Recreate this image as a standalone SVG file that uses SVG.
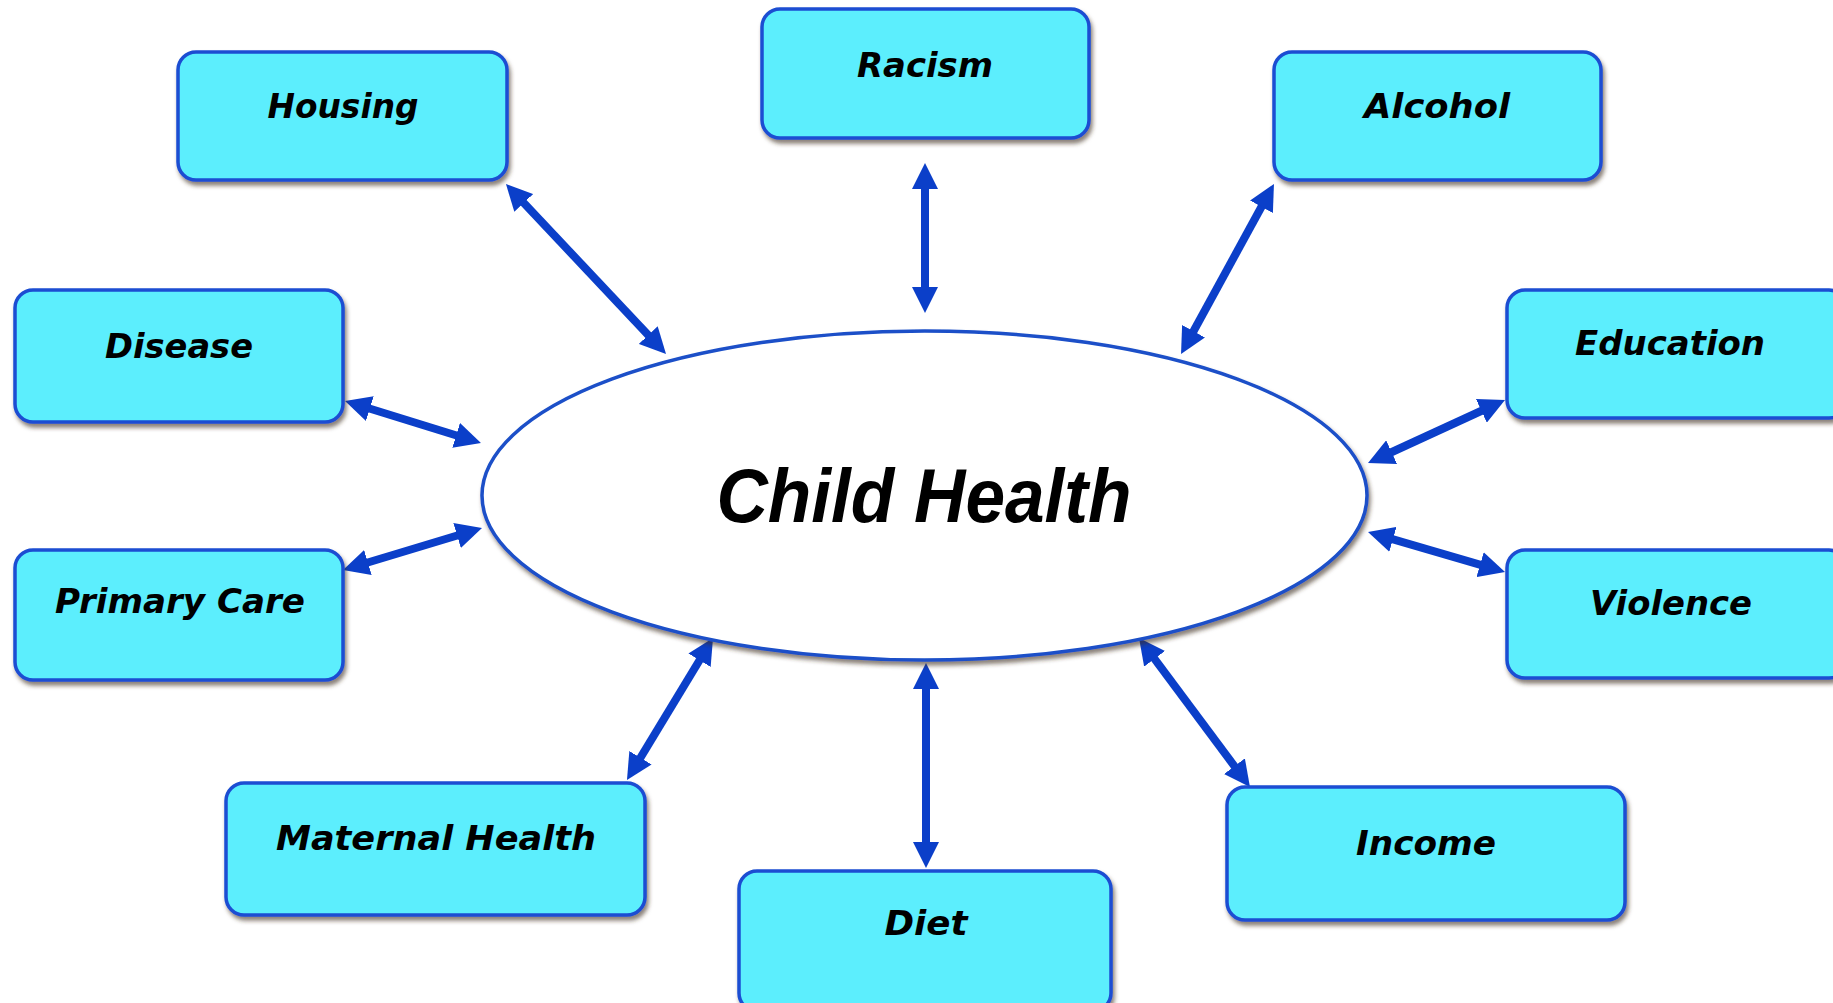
<svg xmlns="http://www.w3.org/2000/svg" width="1833" height="1003" viewBox="0 0 1833 1003">
<defs>
<filter id="sh" x="-10%" y="-10%" width="130%" height="140%">
<feDropShadow dx="2" dy="4" stdDeviation="2" flood-color="#3a2a20" flood-opacity="0.6"/>
</filter>
<marker id="ah" markerUnits="userSpaceOnUse" markerWidth="26" markerHeight="26" refX="14" refY="13" orient="auto-start-reverse">
<path d="M0,0 L26,13 L0,26 Z" fill="#0b3fc9"/>
</marker>
<style>
.box{fill:#5beefd;stroke:#1a4ed2;stroke-width:3.5;filter:url(#sh)}
.lbl{font-family:"DejaVu Sans",sans-serif;font-weight:bold;font-style:italic;font-size:34px;fill:#000;text-anchor:middle}
.arr{stroke:#0b3fc9;stroke-width:8;fill:none;marker-start:url(#ah);marker-end:url(#ah)}
</style>
</defs>
<rect width="1833" height="1003" fill="#fff"/>
<g id="connectors">
<path class="arr" d="M514.2,192.7 L657.8,345.3"/>
<path class="arr" d="M925,175 L925,301"/>
<path class="arr" d="M1268.2,194.5 L1186.8,343.5"/>
<path class="arr" d="M356.5,404.5 L469.5,439.5"/>
<path class="arr" d="M354.5,566.5 L470.5,531.5"/>
<path class="arr" d="M1494.1,405 L1378.9,458"/>
<path class="arr" d="M1493.5,568.6 L1379.5,535.4"/>
<path class="arr" d="M633.2,769.7 L706.8,648.3"/>
<path class="arr" d="M926,856 L926,675"/>
<path class="arr" d="M1242.8,777.4 L1146.2,647.6"/>
</g>
<g id="child-health">
<ellipse cx="924.5" cy="495.5" rx="442.5" ry="164.5" fill="#fff" stroke="#1a4fc8" stroke-width="3.5" filter="url(#sh)"/>
<text x="924" y="522" font-family="'Liberation Sans',sans-serif" font-weight="bold" font-style="italic" font-size="76" text-anchor="middle" textLength="415" lengthAdjust="spacingAndGlyphs">Child Health</text>
</g>
<g id="housing"><rect class="box" x="178" y="52" width="329" height="128" rx="18"/><text class="lbl" x="343" y="118" textLength="151" lengthAdjust="spacingAndGlyphs">Housing</text></g>
<g id="racism"><rect class="box" x="762" y="9" width="327" height="129" rx="18"/><text class="lbl" x="925" y="77" textLength="136" lengthAdjust="spacingAndGlyphs">Racism</text></g>
<g id="alcohol"><rect class="box" x="1274" y="52" width="327" height="128" rx="18"/><text class="lbl" x="1437" y="118" textLength="146" lengthAdjust="spacingAndGlyphs">Alcohol</text></g>
<g id="disease"><rect class="box" x="15" y="290" width="328" height="132" rx="18"/><text class="lbl" x="179" y="358" textLength="148" lengthAdjust="spacingAndGlyphs">Disease</text></g>
<g id="primary-care"><rect class="box" x="15" y="550" width="328" height="130" rx="18"/><text class="lbl" x="180" y="613" textLength="250" lengthAdjust="spacingAndGlyphs">Primary Care</text></g>
<g id="education"><rect class="box" x="1507" y="290" width="340" height="128" rx="18"/><text class="lbl" x="1670" y="355" textLength="190" lengthAdjust="spacingAndGlyphs">Education</text></g>
<g id="violence"><rect class="box" x="1507" y="550" width="340" height="128" rx="18"/><text class="lbl" x="1671" y="615" textLength="162" lengthAdjust="spacingAndGlyphs">Violence</text></g>
<g id="maternal-health"><rect class="box" x="226" y="783" width="419" height="132" rx="18"/><text class="lbl" x="436" y="850" textLength="320" lengthAdjust="spacingAndGlyphs">Maternal Health</text></g>
<g id="diet"><rect class="box" x="739" y="871" width="372" height="140" rx="18"/><text class="lbl" x="926" y="935" textLength="83" lengthAdjust="spacingAndGlyphs">Diet</text></g>
<g id="income"><rect class="box" x="1227" y="787" width="398" height="133" rx="18"/><text class="lbl" x="1426" y="855" textLength="140" lengthAdjust="spacingAndGlyphs">Income</text></g>
</svg>
